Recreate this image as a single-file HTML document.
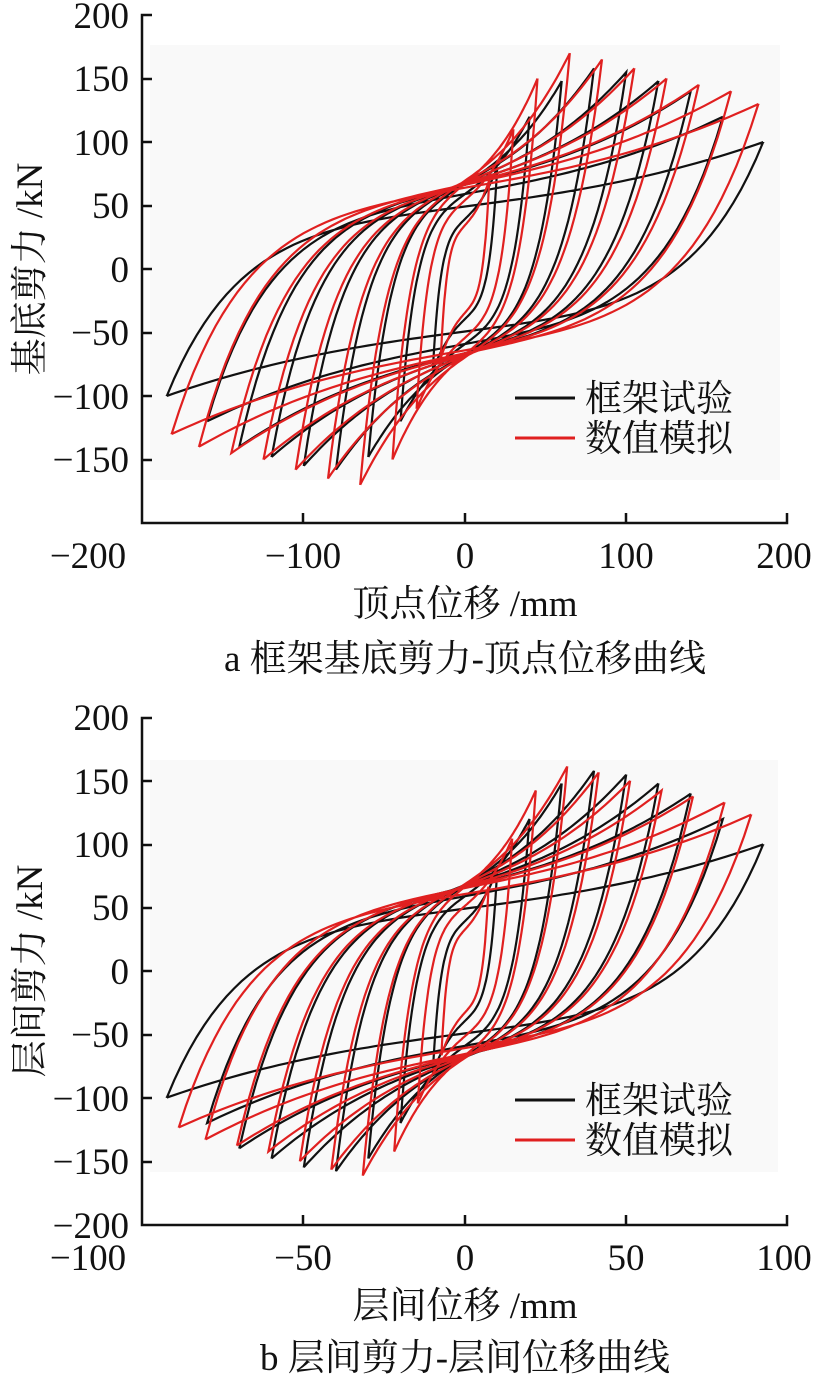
<!DOCTYPE html>
<html><head><meta charset="utf-8"><style>
body{margin:0;background:#fff;}
svg{display:block;font-family:"Liberation Serif","Noto Serif CJK SC","Noto Sans CJK SC",serif;}
</style></head><body>
<svg id="s" width="817" height="1375" viewBox="0 0 817 1375" xmlns="http://www.w3.org/2000/svg">
<rect x="150" y="45" width="630" height="435" fill="#f9f9f9"/>
<rect x="150" y="760" width="628" height="412" fill="#f9f9f9"/>
<g id="pa"></g><g id="pb"></g>
<g stroke="#111" stroke-width="2.5" fill="none">
<path d="M152 15 H142 V523 H787 V513"/>
<path d="M142 79h10M142 142h10M142 206h10M142 269h10M142 333h10M142 396h10M142 460h10M303 523v-10M465 523v-10M626 523v-10"/>
<path d="M152 718 H142 V1225 H787 V1215"/>
<path d="M142 781h10M142 845h10M142 908h10M142 971h10M142 1035h10M142 1098h10M142 1162h10M303 1225v-10M465 1225v-10M626 1225v-10"/>
</g>
<g font-size="37" fill="#111" text-anchor="end">
<text x="129" y="28">200</text><text x="129" y="91">150</text><text x="129" y="155">100</text><text x="129" y="218">50</text><text x="129" y="282">0</text><text x="129" y="345">−50</text><text x="129" y="409">−100</text><text x="129" y="472">−150</text>
<text x="129" y="730">200</text><text x="129" y="794">150</text><text x="129" y="857">100</text><text x="129" y="920">50</text><text x="129" y="984">0</text><text x="129" y="1047">−50</text><text x="129" y="1111">−100</text><text x="129" y="1174">−150</text><text x="129" y="1238">−200</text>
</g>
<g font-size="37" fill="#111" text-anchor="middle">
<text x="88" y="568">−200</text><text x="303" y="568">−100</text><text x="465" y="568">0</text><text x="626" y="568">100</text><text x="784" y="568">200</text>
<text x="465" y="616">顶点位移 /mm</text>
<text x="465" y="671">a 框架基底剪力-顶点位移曲线</text>
<text x="88" y="1270">−100</text><text x="303" y="1270">−50</text><text x="465" y="1270">0</text><text x="626" y="1270">50</text><text x="784" y="1270">100</text>
<text x="465" y="1318">层间位移 /mm</text>
<text x="465" y="1370">b 层间剪力-层间位移曲线</text>
<text transform="translate(42,269) rotate(-90)">基底剪力 /kN</text>
<text transform="translate(42,971) rotate(-90)">层间剪力 /kN</text>
</g>
<g font-size="37" fill="#111">
<line x1="515" y1="398" x2="575" y2="398" stroke="#111" stroke-width="3"/><text x="585" y="411">框架试验</text>
<line x1="515" y1="438" x2="575" y2="438" stroke="#e02020" stroke-width="3"/><text x="585" y="451">数值模拟</text>
<line x1="515" y1="1100" x2="575" y2="1100" stroke="#111" stroke-width="3"/><text x="585" y="1113">框架试验</text>
<line x1="515" y1="1140" x2="575" y2="1140" stroke="#e02020" stroke-width="3"/><text x="585" y="1153">数值模拟</text>
</g>
</svg>
<script>
function loops(g,x0,y0,sx,sy,As,Fs,col){
  var d="";
  for(var i=0;i<As.length;i++){
    var A=As[i],F=Fs[i],P=Math.min(60,F*0.45),k=A*0.25;
    function up(x){var y=-F+(F+P)*(1-Math.exp(-(x+A)/k));var t=(x+A)/(2*A);return y+(F-P)*t*t*t;}
    var pts=[];
    for(var j=0;j<=80;j++){var x=-A+2*A*j/80;pts.push([x,up(x)]);}
    for(var j=0;j<=80;j++){var x=A-2*A*j/80;pts.push([x,-up(-x)]);}
    d+="M";
    pts.forEach(function(p,n){d+=(n?"L":"")+(x0+p[0]*sx).toFixed(1)+" "+(y0-p[1]*sy).toFixed(1);});
    d+="Z";
  }
  var p=document.createElementNS("http://www.w3.org/2000/svg","path");
  p.setAttribute("d",d);p.setAttribute("fill","none");p.setAttribute("stroke",col);p.setAttribute("stroke-width","2.2");
  document.getElementById(g).appendChild(p);
}
var bA=[20,40,60,80,100,120,140,160,185],bF=[80,120,148,158,155,148,140,120,100];
var rA=[15,30,45,65,85,105,125,145,165,182],rF=[70,110,150,170,165,158,150,145,140,130];
loops("pa",465,269,1.612,1.27,bA,bF,"#111");
loops("pa",465,269,1.612,1.27,rA,rF,"#e02020");
loops("pb",465,971,3.224,1.267,bA.map(function(a){return a/2;}),bF,"#111");
loops("pb",465,971,3.224,1.267,rA.map(function(a){return a/2.05;}),rF.map(function(f){return f*0.95;}),"#e02020");
</script>
</body></html>
